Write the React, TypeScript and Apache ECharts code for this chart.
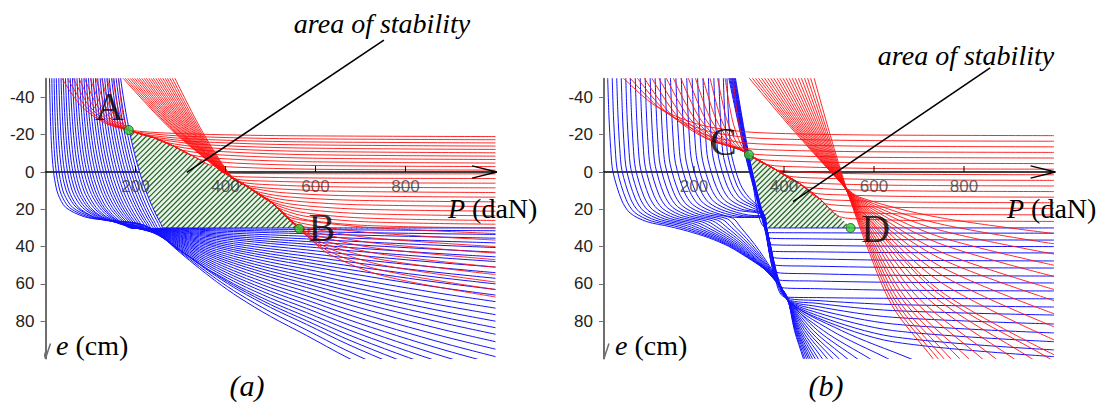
import React, { useEffect, useRef } from 'react';
import * as echarts from 'echarts';

// ---------------- axis ticks ----------------
const P_TICKS = [200, 400, 600, 800];
const E_TICKS = [-40, -20, 0, 20, 40, 60, 80];

// ---------------- panel (a) : blue family ----------------
const blueA_top = [9, 14, 19, 24, 29.5, 34.5, 39.5, 44.5, 50, 55, 60, 65, 70, 75.5, 80.5, 85.5, 90.5, 95.5, 101, 106, 111, 116, 121.5, 126.5, 131.5, 136.5, 141.5, 147, 152, 157, 162, 167];
const blueA_zero = [18, 24, 30, 36.5, 42.5, 49, 55, 61, 67, 73.5, 79.5, 86, 92, 98, 104, 110.5, 116.5, 122.5, 129, 135, 141, 147, 153.5, 159.5, 166, 172, 178, 184.5, 190.5, 196.5, 203, 209];
const blueA_plateau = [29, 29.5, 30, 31, 32, 33, 34, 35, 36, 37.5, 39, 40.5, 42, 44, 46, 48, 50, 52, 54.5, 57, 60, 63, 66, 69, 72, 75, 79, 83, 87, 92, 97, 103];
const blueA_level = [136, 130, 124, 119, 115, 111, 107, 103, 99, 95, 91, 87, 83.5, 80, 76.5, 73, 69.5, 66, 63, 60, 57, 54, 51, 48, 45.5, 43, 40.5, 38, 35.5, 33.5, 31.5, 30];
const blueA_bendP = [0, 200, 240, 290, 360, 430, 500, 580, 670, 780, 890, 1000];
const blueA_bendG = [0, 0, 0.03, 0.13, 0.26, 0.37, 0.465, 0.56, 0.67, 0.79, 0.9, 1.0];

// ---------------- panel (a) : red family ----------------
const redA_envelope = [[185, -22.5], [240, -18.5], [284, -14], [340, -7], [399, 0.5], [450, 8], [506, 17], [564, 30.4], [600, 39]];
const redA_arcTop = [32, 45, 58, 71, 84, 97, 110, 123, 136, 149, 162];
const redA_arcLevel = [-19, -17.3, -15.6, -13.9, -12.1, -10.3, -8.5, -6.7, -4.8, -2.9, -1];
const redA_arcLeave = [185, 200, 216, 232, 248, 265, 283, 302, 322, 343, 365];
const redA_rayTop = [166, 171, 176.5, 182, 187, 192.5, 198, 203, 208.5, 214, 219, 224.5, 230, 235, 240.5, 246, 251, 256.5, 262, 267, 272.5, 278, 284];
const redA_rayTouch = [385, 386.5, 388, 389, 390.5, 392, 393, 394.5, 396, 397, 398.5, 400, 401, 402.5, 404, 405.5, 407, 408, 409.5, 411, 412, 413.5, 415];
const redA_rayLeave = [400, 410, 421, 431, 442, 452, 463, 473, 484, 494, 505, 515, 525, 535, 542, 549, 555, 560, 564, 568, 572, 576, 580];
const redA_rayLevel = [1, 3.5, 6, 8.5, 11, 13.5, 16, 18.5, 21, 23.5, 26, 28, 30, 33, 36.5, 40, 43.5, 47, 51, 55, 59, 63, 67];
const pointsA = [{ name: 'A', value: [185, -22.5] }, { name: 'B', value: [564, 30.4] }];
const labelsA = [{ name: 'A', value: [142, -35] }, { name: 'B', value: [614, 29.7] }];
const leaderA = [[314, 0.2], [752, -70.7]];

// ---------------- panel (b) : blue family ----------------
const blueB_top = [8, 18, 28, 38, 48, 58, 69, 80, 91, 102, 113, 124, 135, 147, 159, 171, 183, 195, 207, 219, 231, 243, 254, 264, 272, 276, 278, 280, 282, 283.5, 285, 286.5, 288, 289.5, 291];
const blueB_spine = [[291, -52], [322, -9.3], [361, 30], [404, 67], [443, 99], [450, 105]];
const blueB_kneeDP = [0, 3, 7, 12, 31, 50, 87, 139];
const blueB_kneeE = [-52, -30, -12, 0, 15, 22, 26.6, 29.3];
const blueB_sagF = [0.15, 0.33, 0.5, 0.66, 0.8, 0.92];
const blueB_sag = [3.2, 6.4, 8.2, 8.2, 7.5, 4];
const blueB_exit = [443, 446, 450, 454, 458, 463, 469, 476, 485, 496, 508, 522, 540, 562, 590, 630, 680];
const blueB_level = [99, 95.4, 91, 86.3, 81.5, 76.7, 72.4, 68];
const blueB_hookLevel = [63.8, 59.5, 55.8, 51.5, 47.7, 43.4, 40, 36.5, 32.8, 30];
const blueB_hookCorner = [62, 58, 54, 50, 46, 42.5, 39, 35.5, 32.5, 30];

// ---------------- panel (b) : red family ----------------
const redB_envelope = [[296, -13.5], [322, -9.3], [380, -1.5], [436, 6.4], [480, 14.5], [524, 24], [548, 30], [575, 37]];
const redB_arcTop = [36, 52, 69, 85, 102, 118, 135, 151, 168, 185, 201, 218, 234, 251, 268, 286];
const redB_arcLevel = [-19.5, -16.5, -13.5, -10.5, -7.5, -4.5, -1.5, 1.5, 4.5, 7.5, 10.5, 13.5, 16.5, 19.5, 23, 26.5];
const redB_rayTop = [317, 324, 331, 338, 345, 352, 359, 366, 373, 380, 387, 394, 401, 408, 415, 422, 429, 436, 443, 450, 457, 465];
const redB_rayLevel = [33, 38.5, 44, 50, 56, 63, 69, 76, 83, 90, 98];
const redB_rayExit = [990, 950, 910, 870, 840, 810, 790, 770, 755, 742, 731];
const greenB_corner = [361, 30];
const pointsB = [{ name: 'C', value: [322, -9.3] }, { name: 'D', value: [548, 30] }];
const labelsB = [{ name: 'C', value: [265, -16.4] }, { name: 'D', value: [604, 30.2] }];
const leaderB = [[420, 15.9], [858, -55.8]];

// ---------------- helpers ----------------
const R = (v: number) => Math.round(v * 100) / 100;
const lerp = (a: number, b: number, t: number) => a + (b - a) * t;
function tableAt(xs: number[], ys: number[], x: number): number {
  const n = xs.length;
  if (x <= xs[0]) return ys[0];
  for (let i = 1; i < n; i++) {
    if (x <= xs[i]) {
      const t = (x - xs[i - 1]) / (xs[i] - xs[i - 1]);
      return ys[i - 1] + t * (ys[i] - ys[i - 1]);
    }
  }
  return ys[n - 1];
}
const polyAt = (poly: number[][], P: number) => tableAt(poly.map((p) => p[0]), poly.map((p) => p[1]), P);
const polyInv = (poly: number[][], e: number) => tableAt(poly.map((p) => p[1]), poly.map((p) => p[0]), e);
const between = (poly: number[][], a: number, b: number) => poly.filter((p) => p[0] > a + 1 && p[0] < b - 1);
function tidy(pts: number[][]) {
  const out: number[][] = [];
  for (const p of pts) {
    if (out.length && p[0] <= out[out.length - 1][0] + 0.3) continue;
    out.push([R(p[0]), R(p[1])]);
  }
  return out;
}
const leaveTo = (P0: number, e0: number, L: number, f1: number, f2: number) => [
  [lerp(P0, 1000, 0.12), lerp(e0, L, f1)],
  [lerp(P0, 1000, 0.4), lerp(e0, L, f2)],
  [1000, L],
];

function blueAParts(k: number) {
  const top = blueA_top[k], zero = blueA_zero[k], c = blueA_plateau[k], L = blueA_level[k];
  const q = ((c + 50) * top - c * zero) / 50;
  const K = c * (zero - q);
  const drop = (P: number) => c - K / (P - q);
  const at = (e: number) => q + K / (c - e);
  const ev = (P: number) => Math.min(drop(P), 30) + (L - 30) * tableAt(blueA_bendP, blueA_bendG, P);
  return { c, at, ev };
}
function blueACurve(k: number) {
  const { c, at, ev } = blueAParts(k);
  const cand: number[] = [];
  for (const lv of [-56, -44, -32, -22, -12, -4, 4, 12, 19, 24, 27.5]) if (lv < Math.min(c, 30) - 1.2) cand.push(at(lv));
  if (c > 30.5) cand.push(at(30));
  const start = at(-56);
  const stations = [130, 170, 210, 250, 290, 330, 380, 430, 500, 580, 670, 780, 890, 1000].filter(
    (P) => P > start + 4 && cand.every((x) => Math.abs(x - P) > 5)
  );
  const Ps = cand.concat(stations).sort((a, b) => a - b);
  return tidy(Ps.map((P) => [P, ev(P)]));
}

function blueBCurve(k: number) {
  const top = blueB_top[k];
  const pts: number[][] = [];
  if (k <= 24) {
    const pinchP = 404 + 0.25 * (12 - k);
    const lift = 0.35 * k;
    if (k <= 13) {
      blueB_kneeDP.forEach((d, i) => pts.push([top + d, blueB_kneeE[i] - lift]));
      const [p0, e0] = pts[pts.length - 1];
      const scale = (pinchP - p0) / 257;
      blueB_sagF.forEach((f, i) => pts.push([lerp(p0, pinchP, f), lerp(e0, 67, f) - blueB_sag[i] * scale]));
    } else {
      // knee like the others, then run into the steep spine and follow it down
      for (let i = 0; i < blueB_kneeDP.length; i++) {
        const P = top + blueB_kneeDP[i], e = blueB_kneeE[i] - lift;
        if (P < polyInv(blueB_spine, e) - 9) pts.push([P, e]);
        else break;
      }
      const ePl = blueB_kneeE[blueB_kneeE.length - 1] - lift;
      const Pj = polyInv(blueB_spine, ePl);
      pts.push([Pj, ePl]);
      between(blueB_spine, Pj, pinchP).forEach((p) => pts.push(p));
    }
    pts.push([pinchP, 67]);
    if (k <= 16) {
      const X = blueB_exit[k];
      pts.push([lerp(pinchP, X, 0.45), 85], [X, 100], [X + 0.15 * (X - pinchP), 104.5]);
    } else {
      pts.push(...leaveTo(pinchP, 67, blueB_level[k - 17], 0.35, 0.75));
    }
  } else {
    const L = blueB_hookLevel[k - 25], ec = blueB_hookCorner[k - 25];
    const off = 291 - top;
    pts.push([top, -52], [322 - off * 0.55, -9.3]);
    if (ec > 31) pts.push([361 - off * 0.3, 30]);
    const Pc = polyInv(blueB_spine, ec) - off * 0.2;
    pts.push([Pc, ec], ...leaveTo(Pc, ec, L, 0.3, 0.75));
  }
  return tidy(pts);
}

function redAArc(j: number) {
  const top = redA_arcTop[j], L = redA_arcLevel[j], out = redA_arcLeave[j];
  const [Pa, ea] = redA_envelope[0];
  const eo = polyAt(redA_envelope, out);
  return tidy([
    [top, -52],
    [lerp(top, Pa, 0.3), lerp(-52, ea, 0.55)],
    [lerp(top, Pa, 0.65), lerp(-52, ea, 0.87)],
    [Pa, ea],
    ...between(redA_envelope, Pa, out),
    [out, eo],
    ...leaveTo(out, eo, L, 0.5, 0.85),
  ]);
}
function redARay(s: number) {
  const top = redA_rayTop[s], touch = redA_rayTouch[s], out = redA_rayLeave[s], L = redA_rayLevel[s];
  const et = polyAt(redA_envelope, touch), eo = polyAt(redA_envelope, out);
  const fan = L > 31;
  return tidy([
    [top, -52],
    [lerp(top, touch, 0.5), lerp(-52, et, 0.56)],
    [touch, et],
    ...between(redA_envelope, touch, out),
    [out, eo],
    ...leaveTo(out, eo, L, fan ? 0.3 : 0.5, fan ? 0.65 : 0.85),
  ]);
}
function redBArc(j: number) {
  const top = redB_arcTop[j], L = redB_arcLevel[j];
  const PJ = 296 + 2 * j;
  const eEnv = polyAt(redB_envelope, PJ);
  const eJ = Math.min(L - 2.5, eEnv);
  const pts: number[][] = [[top, -52], [lerp(top, PJ, 0.3), lerp(-52, eJ, 0.55)], [lerp(top, PJ, 0.65), lerp(-52, eJ, 0.87)], [PJ, eJ]];
  let out = PJ, eo = eJ;
  if (L - 2.5 > eEnv) {
    out = polyInv(redB_envelope, L - 2.5);
    eo = L - 2.5;
    pts.push(...between(redB_envelope, PJ, out), [out, eo]);
  }
  pts.push(...leaveTo(out, eo, L, 0.5, 0.85));
  return tidy(pts);
}
function redBRay(s: number) {
  const top = redB_rayTop[s];
  const W = [528 + 0.6 * s, 6 + 0.2 * s];
  const end = s <= 10 ? [1000, redB_rayLevel[s]] : [redB_rayExit[s - 11], 100];
  const pre = (W[1] + 52) / (W[0] - top);
  const chord = (end[1] - W[1]) / (end[0] - W[0]);
  const sl = 0.6 * pre + 0.4 * chord;
  const Q = [W[0] + 40, W[1] + 40 * sl];
  const M = [lerp(Q[0], end[0], 0.4), lerp(Q[1], end[1], 0.55)];
  const pts = [[top, -52], [lerp(top, W[0], 0.5), lerp(-52, W[1], 0.52)], W, Q, M, end];
  if (s > 10) {
    const sl2 = (end[1] - M[1]) / (end[0] - M[0]);
    pts.push([end[0] + 15, 100 + 15 * sl2]);
  }
  return tidy(pts);
}

const BLUE = '#1212ff';
const RED = '#ff1010';
const SERIF = '"Liberation Serif", "DejaVu Serif", serif';
const SANS = '"Liberation Sans", Arial, sans-serif';

function curve(data: number[][], g: number, color: string, width: number, z: number) {
  return {
    type: 'line', xAxisIndex: g, yAxisIndex: g, data, showSymbol: false, symbol: 'none',
    smooth: 0.3, silent: true, clip: true, z,
    lineStyle: { color, width }, emphasis: { disabled: true },
  };
}
function plain(data: number[][], g: number, color: string, width: number, z: number) {
  return {
    type: 'line', xAxisIndex: g, yAxisIndex: g, data, showSymbol: false, symbol: 'none',
    silent: true, clip: false, z, lineStyle: { color, width }, emphasis: { disabled: true },
  };
}
function hatch(g: number, poly: number[][]) {
  return {
    type: 'custom', xAxisIndex: g, yAxisIndex: g, silent: true, z: 1, clip: false,
    data: [[0, 0]],
    renderItem: (_params: any, api: any) => {
      const pts = poly.map((p) => api.coord(p));
      const sums = pts.map((p: number[]) => p[0] + p[1]);
      const lo = Math.min(...sums), hi = Math.max(...sums);
      const step = 5.3;
      const children: any[] = [{ type: 'polygon', shape: { points: pts }, style: { fill: '#eaf4ea' } }];
      for (let c = lo + step / 2; c < hi; c += step) {
        const xs: number[][] = [];
        for (let i = 0; i < pts.length; i++) {
          const a = pts[i], b = pts[(i + 1) % pts.length];
          const fa = a[0] + a[1] - c, fb = b[0] + b[1] - c;
          if (fa < 0 !== fb < 0) {
            const t = fa / (fa - fb);
            xs.push([a[0] + t * (b[0] - a[0]), a[1] + t * (b[1] - a[1])]);
          }
        }
        xs.sort((u, v) => u[0] - v[0]);
        for (let i = 0; i + 1 < xs.length; i += 2) {
          children.push({ type: 'line', shape: { x1: xs[i][0], y1: xs[i][1], x2: xs[i + 1][0], y2: xs[i + 1][1] }, style: { stroke: '#2a652a', lineWidth: 1.25 } });
        }
      }
      return { type: 'group', children };
    },
  };
}
function dots(g: number, data: any[]) {
  return {
    type: 'scatter', xAxisIndex: g, yAxisIndex: g, data, symbolSize: 9, silent: true, z: 10,
    itemStyle: { color: '#35cc35', borderColor: '#0d4d0d', borderWidth: 1 },
  };
}
function letters(g: number, data: any[]) {
  return {
    type: 'scatter', xAxisIndex: g, yAxisIndex: g, data, symbolSize: 1, silent: true, z: 11,
    itemStyle: { color: 'rgba(0,0,0,0)' },
    label: { show: true, position: 'inside', formatter: '{b}', fontFamily: SERIF, fontSize: 40, color: '#000' },
  };
}
function xTickLabels(g: number) {
  return {
    type: 'scatter', xAxisIndex: g, yAxisIndex: g, data: P_TICKS.map((p) => [p, 0]), symbolSize: 1, silent: true, z: 9,
    itemStyle: { color: 'rgba(0,0,0,0)' },
    label: {
      show: true, position: 'bottom', distance: 5, formatter: (p: any) => String(p.value[0]),
      fontFamily: SANS, fontSize: 17, color: '#3a3a3a',
    },
  };
}

function xAxisFor(g: number) {
  return {
    type: 'value', gridIndex: g, min: 0, max: 1000, interval: 200,
    axisLine: { show: true, onZero: true, lineStyle: { color: '#000', width: 1.5 } },
    axisTick: { show: false },
    axisLabel: { show: false },
    splitLine: { show: false },
  };
}
function yAxisFor(g: number) {
  return {
    type: 'value', gridIndex: g, inverse: true, min: -50, max: 100,
    axisLine: { show: true, onZero: false, lineStyle: { color: '#6e6e6e', width: 2 } },
    axisTick: { show: true, inside: false, length: 5, customValues: E_TICKS, lineStyle: { color: '#6e6e6e', width: 1 } },
    axisLabel: { show: true, customValues: E_TICKS, margin: 11, fontFamily: SANS, fontSize: 17, color: '#222' },
    splitLine: { show: false },
  };
}

function buildOption() {
  const series: any[] = [];
  // green area (a): top = red envelope A..B, left = the rightmost blue curve down to its corner
  const edgeA = blueACurve(blueA_top.length - 1).filter((p) => p[0] > 186 && p[1] <= 30);
  const greenA = redA_envelope.filter((p) => p[0] <= 564).concat([[edgeA[edgeA.length - 1][0], 30]], edgeA.slice().reverse());
  const greenB = redB_envelope.filter((p) => p[0] >= 322 && p[0] <= 548).concat([greenB_corner]);
  series.push(hatch(0, greenA), hatch(1, greenB));
  blueA_top.forEach((_, k) => series.push(curve(blueACurve(k), 0, BLUE, 1, 2)));
  blueB_top.forEach((_, k) => series.push(curve(blueBCurve(k), 1, BLUE, 1, 2)));
  redA_arcTop.forEach((_, j) => series.push(curve(redAArc(j), 0, RED, 0.9, 3)));
  redA_rayTop.forEach((_, s) => series.push(curve(redARay(s), 0, RED, 0.9, 3)));
  redB_arcTop.forEach((_, j) => series.push(curve(redBArc(j), 1, RED, 0.9, 3)));
  redB_rayTop.forEach((_, s) => series.push(curve(redBRay(s), 1, RED, 0.9, 3)));
  // leader lines
  series.push(plain(leaderA, 0, '#000', 1.6, 8), plain(leaderB, 1, '#000', 1.6, 8));
  for (const g of [0, 1]) {
    // axis arrow heads and x ticks
    series.push(plain([[-11, 92], [0, 100], [11, 92]], g, '#6e6e6e', 1.5, 6));
    series.push(plain([[990, 0], [1003, 0]], g, '#000', 1.5, 6));
    series.push(plain([[948, -3.3], [1003, 0], [948, 3.3]], g, '#000', 1.3, 6));
    P_TICKS.forEach((p) => series.push(plain([[p, 0], [p, -3.2]], g, '#000', 1, 6)));
    series.push(xTickLabels(g));
  }
  series.push(dots(0, pointsA), dots(1, pointsB), letters(0, labelsA), letters(1, labelsB));

  const txt = (x: number, y: number, text: string, size: number, italic: boolean, align = 'center', rich?: any) => ({
    type: 'text', x, y, silent: true, z: 20,
    style: {
      text, fontFamily: SERIF, fontSize: size, fontStyle: italic ? 'italic' : 'normal', fill: '#000',
      align, verticalAlign: 'middle', rich,
    },
  });
  const italicRich = { i: { fontStyle: 'italic', fontSize: 28, fontFamily: SERIF, fill: '#000' } };
  const graphic = [
    txt(382, 23, 'area of stability', 28, true),
    txt(966, 55, 'area of stability', 28, true),
    txt(247, 385, '(a)', 30, true),
    txt(826, 385, '(b)', 30, true),
    txt(448, 208, '{i|P} (daN)', 28, false, 'left', italicRich),
    txt(1007, 208, '{i|P} (daN)', 28, false, 'left', italicRich),
    txt(56, 345, '{i|e} (cm)', 28, false, 'left', italicRich),
    txt(615, 345, '{i|e} (cm)', 28, false, 'left', italicRich),
  ];

  return {
    animation: false,
    backgroundColor: '#ffffff',
    grid: [
      { left: 45.5, top: 78.75, width: 450, height: 279.75, containLabel: false },
      { left: 604, top: 78.75, width: 450, height: 279.75, containLabel: false },
    ],
    xAxis: [xAxisFor(0), xAxisFor(1)],
    yAxis: [yAxisFor(0), yAxisFor(1)],
    series,
    graphic,
  };
}

export default function App() {
  const ref = useRef<HTMLDivElement>(null);
  useEffect(() => {
    document.body.style.margin = '0';
    if (!ref.current) return;
    const chart = echarts.init(ref.current, undefined, { renderer: 'svg' });
    chart.setOption(buildOption() as any);
    return () => chart.dispose();
  }, []);
  return <div ref={ref} style={{ width: 1104, height: 408 }} />;
}
